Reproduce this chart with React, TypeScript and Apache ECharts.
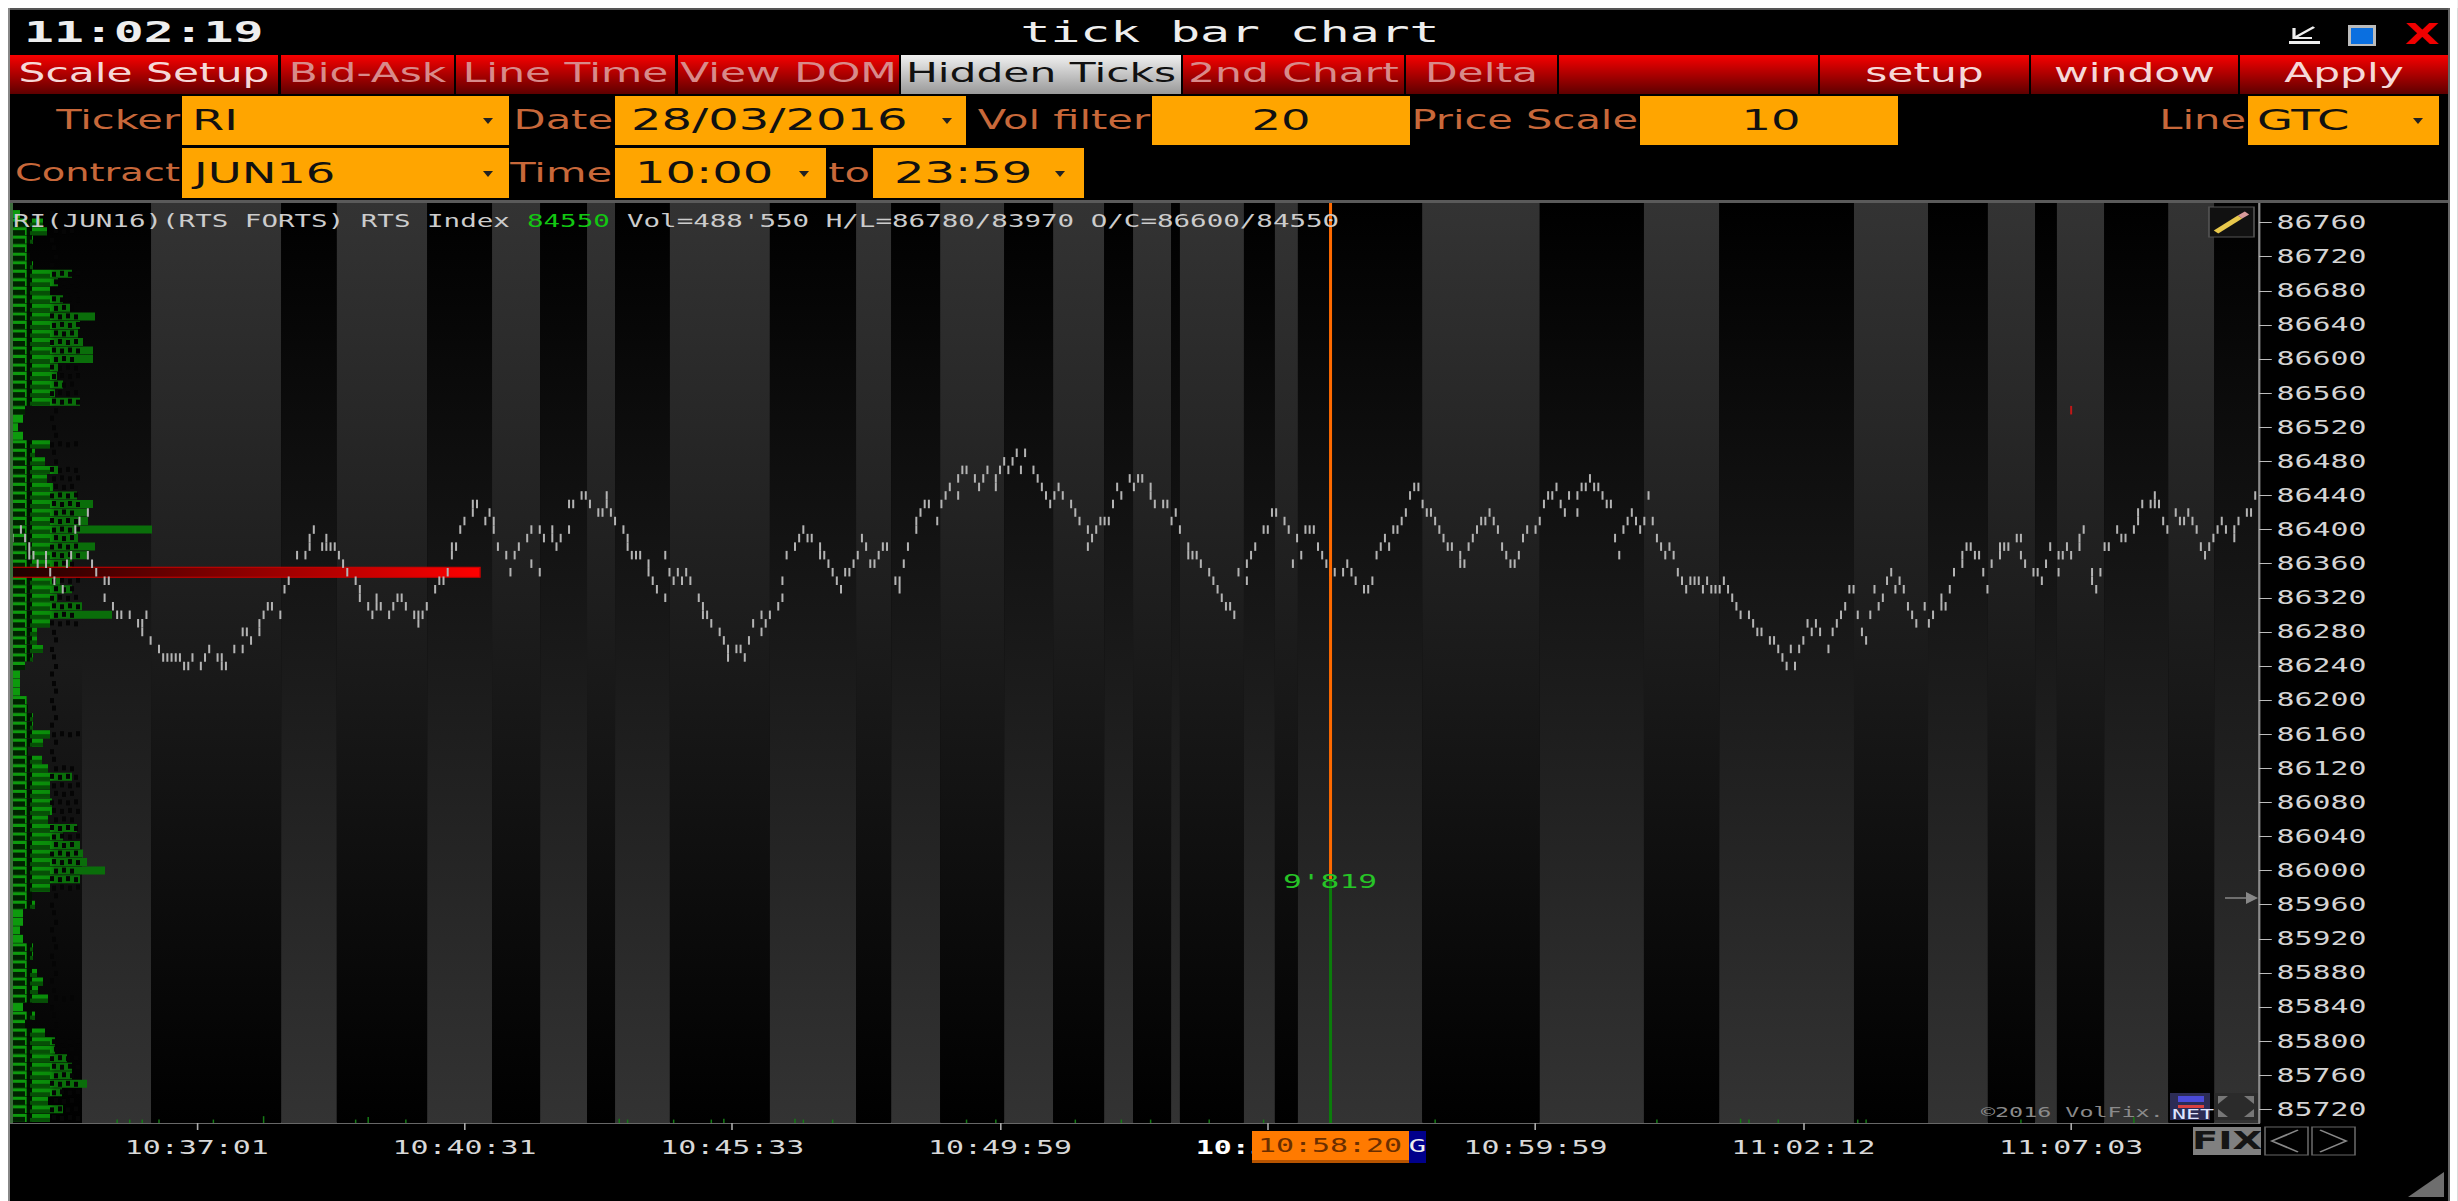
import React, { useEffect, useRef } from "react";
import * as echarts from "echarts";

const K = 1.6; // the source screenshot is stretched horizontally
const W = 2458, H = 1201;

const yTicks = [86760,86720,86680,86640,86600,86560,86520,86480,86440,86400,86360,86320,86280,86240,86200,86160,86120,86080,86040,86000,85960,85920,85880,85840,85800,85760,85720];
const timeTickBars = [47,111,175,239,303,367,431,495];
const timeTickLabels = ["10:37:01","10:40:31","10:45:33","10:49:59","10:55:12","10:59:59","11:02:12","11:07:03"];

const sessionEdges = [19.6,36.1,67.2,80.5,102.1,117.6,129.1,140.3,147,160.1,184,204.6,213,224.7,240,251.7,263.9,270.8,279.9,282,297.3,304.7,310.2,339.9,368,392.9,410.9,443.1,460.8,475.1,486.4,491.6,502.9,518.2,529.2,539.7];

const ticksA = [[3,86390],[5,86400],[6,86390],[7,86380],[7,86370],[8,86370],[9,86360],[11,86370],[11,86360],[12,86350],[13,86340],[15,86330],[16,86360],[17,86370],[18,86400],[19,86410],[21,86420],[21,86370],[22,86360],[23,86350],[25,86340],[26,86340],[25,86320],[27,86310],[28,86300],[29,86300],[31,86300],[35,86300],[33,86290],[34,86290],[34,86280],[36,86270],[38,86260],[39,86250],[40,86250],[41,86250],[42,86250],[43,86250],[44,86240],[45,86240],[46,86250],[48,86240],[49,86250],[50,86260],[52,86250],[53,86250],[53,86240],[54,86240],[56,86260],[58,86260],[58,86280],[59,86280],[60,86270],[62,86280],[62,86290],[63,86300],[64,86310],[65,86310],[67,86300],[68,86330],[69,86340],[71,86370],[73,86370],[74,86380],[74,86390],[75,86400],[78,86390],[77,86380],[78,86380],[79,86380],[80,86380],[81,86370],[82,86360],[83,86350],[85,86340],[86,86330],[86,86320],[88,86310],[89,86300],[90,86320],[90,86310],[91,86310],[93,86300],[94,86310],[95,86320],[96,86320],[97,86310],[99,86300],[100,86300],[100,86290],[101,86300],[102,86310],[104,86330],[105,86340],[106,86340],[107,86350],[108,86370],[108,86380],[109,86380],[110,86400],[111,86410],[113,86420],[113,86430],[114,86430],[117,86420],[116,86410],[118,86410],[118,86400],[119,86380],[121,86370],[123,86370],[122,86350],[124,86380],[126,86390],[127,86400],[127,86360],[129,86350],[129,86400],[130,86390],[132,86400],[132,86390],[133,86380],[134,86390],[136,86400],[136,86430],[137,86430],[139,86440],[140,86440],[141,86430],[143,86420],[144,86420],[145,86430],[145,86440],[146,86420],[147,86410],[149,86400],[150,86390],[150,86380],[151,86370],[152,86370],[153,86370],[155,86360],[155,86350],[156,86340],[157,86330],[159,86320],[159,86370],[160,86350],[161,86340],[162,86350],[163,86340],[164,86350],[165,86340],[167,86320],[168,86310],[168,86300],[169,86300],[170,86290],[172,86280],[173,86270],[174,86260],[174,86250],[176,86260],[177,86260],[178,86250],[179,86270],[180,86290],[182,86280],[182,86300],[183,86290],[184,86300],[186,86310],[187,86320],[187,86340],[188,86370],[190,86380],[191,86390],[192,86400],[193,86390],[194,86390],[196,86370]];
const ticksB = [[196,86380],[197,86370],[198,86360],[199,86350],[200,86340],[201,86330],[202,86350],[203,86350],[204,86360],[205,86370],[206,86390],[207,86380],[208,86360],[209,86360],[210,86370],[211,86380],[212,86380],[214,86340],[215,86330],[215,86340],[216,86360],[217,86380],[219,86400],[219,86410],[220,86420],[221,86430],[222,86430],[224,86410],[225,86430],[226,86440],[227,86450],[229,86440],[229,86460],[230,86470],[231,86470],[233,86460],[234,86450],[235,86460],[236,86470],[238,86460],[238,86450],[239,86470],[240,86480],[241,86470],[242,86480],[243,86490],[244,86470],[245,86490],[247,86470],[248,86460],[249,86450],[250,86440],[251,86430],[252,86440],[253,86450],[254,86440],[256,86430],[257,86420],[258,86410],[260,86400],[260,86380],[261,86390],[262,86400],[263,86410],[264,86410],[265,86410],[266,86430],[267,86450],[268,86440],[270,86460],[271,86450],[272,86460],[273,86460],[275,86450],[275,86440],[276,86430],[278,86430],[279,86430],[280,86410],[281,86420],[282,86400],[284,86380],[284,86370],[285,86370],[286,86370],[287,86360],[289,86350],[290,86340],[291,86330],[292,86320],[293,86310],[294,86310],[295,86300],[296,86350],[298,86340],[298,86360],[299,86370],[300,86380],[302,86400],[303,86400],[304,86420],[305,86420],[307,86410],[308,86400],[309,86360],[310,86390],[311,86370],[312,86400],[313,86400],[314,86400],[315,86380],[316,86370],[317,86360],[318,86350],[319,86350],[321,86350],[322,86360],[323,86350],[324,86340],[326,86330],[327,86330],[328,86340],[329,86370],[330,86380],[331,86390],[332,86380],[333,86400],[334,86400],[335,86410],[336,86420],[337,86440],[338,86450],[339,86450],[340,86430],[341,86420],[342,86420],[343,86410],[344,86400],[345,86390],[346,86380],[347,86380],[349,86370],[349,86360],[350,86360],[351,86380],[352,86390],[353,86400],[354,86410],[355,86410],[356,86420],[357,86410],[358,86400],[359,86380],[360,86370],[361,86360],[362,86360],[363,86370],[364,86390],[365,86400],[367,86400],[368,86410],[369,86430],[370,86440],[371,86440],[372,86450],[373,86430],[374,86420],[375,86440],[377,86420],[377,86440],[378,86450],[379,86450],[380,86460],[381,86450],[382,86450],[383,86440],[384,86430],[385,86430],[386,86390],[387,86370],[388,86400],[389,86410],[390,86420],[391,86410]];
const ticksC = [[392,86400],[393,86410],[394,86440],[395,86410],[396,86390],[397,86380],[398,86370],[399,86380],[400,86370],[401,86350],[402,86340],[403,86330],[404,86340],[405,86340],[406,86340],[407,86330],[408,86340],[409,86330],[410,86330],[411,86330],[412,86340],[413,86330],[414,86320],[415,86310],[416,86300],[418,86300],[419,86290],[420,86280],[421,86280],[423,86270],[424,86270],[425,86260],[426,86250],[427,86240],[428,86260],[429,86240],[430,86260],[431,86270],[432,86290],[433,86280],[434,86290],[435,86280],[437,86260],[438,86280],[439,86290],[440,86300],[441,86310],[442,86330],[443,86330],[444,86300],[445,86280],[446,86270],[447,86300],[448,86330],[449,86310],[450,86320],[451,86340],[452,86350],[453,86330],[454,86340],[455,86330],[456,86310],[457,86300],[458,86290],[460,86310],[461,86290],[462,86300],[464,86310],[464,86320],[465,86310],[466,86330],[467,86350],[469,86360],[469,86370],[470,86380],[471,86380],[472,86370],[473,86370],[474,86350],[475,86330],[476,86360],[478,86370],[478,86380],[479,86380],[480,86380],[482,86390],[483,86390],[483,86370],[484,86360],[486,86350],[487,86350],[488,86340],[489,86360],[490,86380],[492,86370],[492,86350],[493,86370],[494,86380],[495,86370],[497,86380],[497,86390],[498,86400],[500,86350],[500,86340],[501,86330],[502,86350],[503,86380],[504,86380],[506,86400],[507,86390],[508,86390],[510,86400],[511,86410],[511,86420],[512,86430],[514,86430],[515,86440],[515,86430],[516,86430],[517,86410],[518,86400],[520,86420],[521,86410],[522,86410],[523,86420],[524,86410],[525,86400],[526,86380],[527,86370],[528,86380],[529,86390],[530,86400],[531,86410],[532,86400],[534,86390],[534,86400],[535,86410],[537,86420],[538,86420],[539,86440]];
const redTicks = [[495,86540]];

const profileTopPrice = 86770;
const profileVolumes = [10,33,37,23,17,20,23,62,48,40,53,60,85,70,68,73,83,83,48,47,53,45,70,15,13,8,13,40,25,35,48,37,43,67,83,78,78,142,68,85,77,62,57,50,62,47,72,102,40,27,27,33,23,15,10,10,10,17,18,23,23,40,33,18,32,38,62,40,40,42,42,38,67,53,70,73,77,95,70,40,22,25,13,13,10,13,23,23,20,27,33,28,38,13,25,15,35,45,45,57,62,62,77,52,38,53,40];

const currentLevel = [2.9, 114.7, 86350];
const crossBar = 318;
const crossSplitPrice = 85990;
const smallVolumes = [[28,85708],[31,85708],[34,85708],[38,85708],[51,85708],[63,85712],[85,85708],[88,85711],[97,85708],[148,85709],[150,85708],[161,85708],[170,85708],[173,85709],[190,85709],[192,85708],[199,85708],[231,85708],[238,85708],[257,85708],[268,85708],[275,85708],[289,85708],[302,85708],[318,85708],[343,85708],[396,85708],[416,85709],[418,85708],[425,85708],[444,85708],[446,85708],[483,85708],[510,85711]];

const MONO = '"DejaVu Sans Mono"';
const SANS = '"DejaVu Sans"';
const X = (px: number) => px / K;

function rect(x0: number, y0: number, x1: number, y1: number, fill: any, extra: any = {}) {
  return { type: "rect", z: 100, silent: true, shape: { x: X(x0), y: y0, width: X(x1 - x0), height: y1 - y0 }, style: { fill, ...extra } };
}
function label(x: number, y: number, text: string, size: number, fill: string, align = "left", family = SANS, weight = "normal", sx = 1) {
  return { type: "text", z: 101, silent: true, x: X(x), y, scaleX: sx, style: { text, fill, font: `${weight} ${size}px ${family}`, textAlign: align, textVerticalAlign: "middle" } };
}
function poly(pts: number[][], fill: string) {
  return { type: "polygon", z: 101, silent: true, shape: { points: pts.map((p) => [X(p[0]), p[1]]) }, style: { fill } };
}
function pline(pts: number[][], stroke: string, lineWidth = 1.5) {
  return { type: "polyline", z: 101, silent: true, shape: { points: pts.map((p) => [X(p[0]), p[1]]) }, style: { stroke, lineWidth, fill: "none" } };
}
const arrow = (x: number, y: number) => poly([[x - 5, y - 3], [x + 5, y - 3], [x, y + 3]], "#222");

function redBtn() {
  return new echarts.graphic.LinearGradient(0, 0, 0, 1, [{ offset: 0, color: "#f80000" }, { offset: 1, color: "#5e0000" }]);
}

function buildGraphics() {
  const g: any[] = [];
  // white page margins and window borders
  g.push(rect(0, 0, W, 8, "#fff"), rect(0, 0, 8, H, "#fff"), rect(2450, 0, W, H, "#fff"));
  g.push(rect(8, 8, 2450, 10, "#555"), rect(8, 8, 10, H, "#888"), rect(2448, 8, 2450, H, "#666"));
  // title row
  g.push(label(24, 33, "11:02:19", 28, "#eee", "left", MONO, "bold", 1.11));
  g.push(label(1230, 33, "tick bar chart", 28, "#eee", "center", MONO, "normal", 1.11));
  g.push(pline([[2314, 27], [2294, 38]], "#eee", 2), pline([[2294, 28], [2294, 38], [2312, 38]], "#eee", 2), rect(2289, 41, 2320, 44, "#eee"));
  g.push(rect(2348, 25, 2376, 46, "#bbb"), rect(2351, 28, 2373, 44, "#0a6fe0"));
  g.push(label(2422, 34, "X", 28, "#f00000", "center", SANS, "bold"));
  // button row
  const btns: [number, number, string, string][] = [
    [10, 278, "Scale Setup", "#f6d8d8"], [281, 454, "Bid-Ask", "#d88a8a"], [456, 675, "Line Time", "#d88a8a"],
    [678, 899, "View DOM", "#d88a8a"], [1183, 1404, "2nd Chart", "#d88a8a"], [1406, 1557, "Delta", "#d88a8a"],
    [1559, 1818, "", "#fff"], [1820, 2029, "setup", "#f6d8d8"], [2031, 2238, "window", "#f6d8d8"], [2240, 2448, "Apply", "#f6d8d8"],
  ];
  btns.forEach(([a, b, t, c]) => {
    g.push(rect(a, 55, b, 94, redBtn()));
    if (t) g.push(label((a + b) / 2, 73, t, 26.5, c, "center"));
  });
  g.push(rect(901, 55, 1181, 94, new echarts.graphic.LinearGradient(0, 0, 0, 1, [{ offset: 0, color: "#f0f0f0" }, { offset: 1, color: "#999" }])));
  g.push(label(1041, 73, "Hidden Ticks", 26.5, "#111", "center"));
  // form fields
  const O = "#ffa500", L = "#c8683a";
  g.push(label(180, 120, "Ticker", 26, L, "right"), rect(182, 96, 509, 145, O), label(192, 120, "RI", 29, "#111"), arrow(488, 121));
  g.push(label(613, 120, "Date", 26, L, "right"), rect(615, 96, 966, 145, O), label(631, 120, "28/03/2016", 30, "#111"), arrow(947, 121));
  g.push(label(1150, 120, "Vol filter", 26, L, "right"), rect(1152, 96, 1410, 145, O), label(1281, 120, "20", 29, "#111", "center"));
  g.push(label(1638, 120, "Price Scale", 26, L, "right"), rect(1640, 96, 1898, 145, O), label(1771, 120, "10", 29, "#111", "center"));
  g.push(label(2246, 120, "Line", 26, L, "right"), rect(2248, 96, 2439, 145, O), label(2257, 120, "GTC", 29, "#111"), arrow(2418, 121));
  g.push(label(180, 173, "Contract", 24, L, "right"), rect(182, 148, 509, 198, O), label(194, 173, "JUN16", 29, "#111"), arrow(488, 174));
  g.push(label(612, 173, "Time", 26, L, "right"), rect(615, 148, 826, 198, O), label(635, 173, "10:00", 30, "#111"), arrow(804, 174));
  g.push(label(849, 173, "to", 26, L, "center"), rect(873, 148, 1084, 198, O), label(894, 173, "23:59", 30, "#111"), arrow(1060, 174));
  g.push(rect(10, 200, 2448, 203, "#5a5a5a"));
  // info line
  g.push(label(13, 221, "RI(JUN16)(RTS FORTS) RTS Index ", 17.2, "#ccc", "left", MONO));
  g.push(label(527, 221, "84550", 17.2, "#12c812", "left", MONO));
  g.push(label(627, 221, "Vol=488'550 H/L=86780/83970 O/C=86600/84550", 17.2, "#ccc", "left", MONO));
  // profile edge
  g.push(rect(10, 203, 13, 1123, "#3d6d3d"));
  // pen icon
  g.push(rect(2209, 207, 2254, 237, "#111", { stroke: "#555", lineWidth: 1 }));
  g.push(pline([[2216, 232], [2240, 217]], "#e8c84c", 4), pline([[2240, 217], [2247, 213]], "#d89a9a", 4));
  // crosshair volume & price arrow
  g.push(label(1330, 881, "9'819", 19.5, "#27c427", "center", MONO));
  g.push(pline([[2225, 898], [2250, 898]], "#888", 1.5), poly([[2246, 892], [2258, 898], [2246, 904]], "#888"));
  // watermark and logo
  g.push(label(1981, 1112, "©2016 VolFix.", 14.6, "#8a8a8a", "left", MONO));
  g.push(rect(2170, 1093, 2210, 1120, "#2c2c55"), rect(2178, 1096, 2204, 1102, "#4a4ad8"), rect(2178, 1105, 2204, 1108, "#d84040"));
  g.push(label(2172, 1114, "NET", 14.6, "#dfe4ff", "left", MONO));
  g.push(rect(2214, 1093, 2258, 1120, "#2b2b2b"));
  g.push(poly([[2218, 1096], [2228, 1096], [2218, 1104]], "#777"), poly([[2254, 1096], [2244, 1096], [2254, 1104]], "#777"), poly([[2218, 1117], [2228, 1117], [2218, 1109]], "#777"), poly([[2254, 1117], [2244, 1117], [2254, 1109]], "#777"));
  // crosshair time flag
  g.push(rect(1252, 1131, 1409, 1163, "#ff7a00"), rect(1252, 1160, 1409, 1163, "#b85400"));
  g.push(label(1330, 1146, "10:58:20", 18.7, "#6a2e00", "center", MONO));
  g.push(rect(1409, 1131, 1426, 1163, "#00008b"), label(1417.5, 1146, "G", 18, "#eee", "center", MONO));
  // FIX and arrows
  g.push(rect(2193, 1127, 2261, 1155, "#808080"), label(2227, 1141, "FIX", 24, "#151515", "center", SANS, "bold"));
  g.push(rect(2265, 1127, 2308, 1155, "#000", { stroke: "#666", lineWidth: 1 }), pline([[2298, 1130], [2272, 1141], [2298, 1152]], "#888"));
  g.push(rect(2312, 1127, 2355, 1155, "#000", { stroke: "#666", lineWidth: 1 }), pline([[2320, 1130], [2346, 1141], [2320, 1152]], "#888"));
  g.push(poly([[2444, 1172], [2444, 1197], [2408, 1197]], "#6e6e6e"));
  return g;
}

const bandRender = (params: any, api: any) => {
  const a = api.coord([api.value(0), 0])[0];
  const b = api.coord([api.value(1), 0])[0];
  const cs = params.coordSys;
  const k = api.value(2);
  const top = k === 0 ? "#000000" : k === 1 ? "#333333" : "#000000";
  const bottom = k === 0 ? "#333333" : "#000000";
  return {
    type: "rect", silent: true,
    shape: { x: a, y: cs.y, width: b - a, height: cs.height },
    style: { fill: new echarts.graphic.LinearGradient(0, 0, 0, 1, [{ offset: 0, color: top }, { offset: 0.5, color: "#1a1a1a" }, { offset: 1, color: bottom }]) },
  };
};

const profileRender = (params: any, api: any) => {
  const vol = api.value(0);
  const s = api.coord([0, api.value(1)]);
  const e = api.coord([vol, api.value(1)]);
  const px = (real: number) => s[0] + X(real - 10);
  const endReal = 10 + vol;
  const c = s[1];
  const i = params.dataIndex;
  const fill = new echarts.graphic.LinearGradient(s[0], 0, s[0] + X(90), 0, [
    { offset: 0, color: "#0d9a0d" }, { offset: 0.18, color: "#0d9a0d" }, { offset: 0.19, color: "#010" },
    { offset: 0.24, color: "#010" }, { offset: 0.25, color: "#0a920a" }, { offset: 0.45, color: "#0a8a0a" }, { offset: 0.5, color: "#0a6e0a" }, { offset: 1, color: "#0a6e0a" },
  ], true);
  const kids: any[] = [{ type: "rect", shape: { x: s[0], y: c - 4, width: e[0] - s[0], height: 8 }, style: { fill } }];
  // bright upper edge, dark lower shade of the left cells
  if (vol > 14) kids.push({ type: "rect", shape: { x: px(13), y: c - 1, width: X(Math.min(12, endReal - 13)), height: 5 }, style: { fill: "#020" } });
  if (vol > 22) kids.push({ type: "rect", shape: { x: px(30), y: c, width: X(Math.min(20, endReal - 30)), height: 4 }, style: { fill: "#064f06" } });
  // dark digits drawn over the cells and next to them
  const stop = vol > 35 ? 82 : 60;
  for (let j = 0; j < 4; j++) {
    const xj = 50 + j * 8 + (i % 3) * 2;
    if (xj + 4 < stop) kids.push({ type: "rect", shape: { x: px(xj), y: c - 3 + ((i + j) % 2), width: X(4), height: 5 }, style: { fill: "#050505" } });
  }
  return { type: "group", silent: true, children: kids };
};

const tickRender = (color: string) => (_p: any, api: any) => {
  const p = api.coord([api.value(0), api.value(1)]);
  const h = api.size([0, 10])[1];
  return { type: "rect", silent: true, shape: { x: p[0] - X(1), y: p[1] - h / 2, width: X(2), height: h }, style: { fill: color } };
};

const spikeRender = (_p: any, api: any) => {
  const p = api.coord([api.value(0), api.value(1)]);
  const b = api.coord([api.value(0), 85704]);
  return { type: "rect", silent: true, shape: { x: p[0] - X(0.75), y: p[1], width: X(1.5), height: b[1] - p[1] }, style: { fill: "#157a15" } };
};

const levelRender = (_p: any, api: any) => {
  const a = api.coord([api.value(0), api.value(2)]);
  const b = api.coord([api.value(1), api.value(2)]);
  return {
    type: "rect", silent: true,
    shape: { x: a[0], y: a[1] - 5, width: b[0] - a[0], height: 10 },
    style: {
      fill: new echarts.graphic.LinearGradient(0, 0, 1, 0, [{ offset: 0, color: "#1c0000" }, { offset: 1, color: "#ff0000" }]),
      stroke: "#d00000", lineWidth: 1,
    },
  };
};

export default function App() {
  const ref = useRef<HTMLDivElement>(null);
  useEffect(() => {
    document.body.style.margin = "0";
    document.body.style.overflow = "hidden";
    document.documentElement.style.overflow = "hidden";
    const chart = echarts.init(ref.current!, undefined, { renderer: "svg" });
    const bands: number[][] = [[2.39, sessionEdges[0], 2]];
    for (let i = 0; i < sessionEdges.length - 1; i++) bands.push([sessionEdges[i], sessionEdges[i + 1], i % 2]);
    const profile = profileVolumes.map((v, i) => [v, profileTopPrice - i * 10]);
    chart.setOption({
      animation: false,
      backgroundColor: "#000",
      tooltip: { show: false },
      legend: { show: false },
      grid: { left: X(10), top: 203, width: X(2249), height: 920, containLabel: false },
      xAxis: [
        {
          type: "value", min: 2.39, max: 539.9, position: "bottom", scale: true,
          splitLine: { show: false },
          axisLine: { show: true, onZero: false, lineStyle: { color: "#8a8a8a", width: 1.5 } },
          axisTick: { show: true, length: 7, customValues: timeTickBars, lineStyle: { color: "#aaa" } },
          axisLabel: {
            show: true, customValues: timeTickBars, margin: 15, color: "#d8d8d8", fontSize: 18.7, fontFamily: MONO,
            hideOverlap: false,
            formatter: (v: number) => {
              const i = timeTickBars.indexOf(v);
              return i === 4 ? `{b|${timeTickLabels[i]}}` : timeTickLabels[i];
            },
            rich: { b: { fontWeight: "bold", color: "#fff", fontSize: 18.7, fontFamily: MONO } },
          },
        },
        { type: "value", min: 0, max: 2249, show: false },
      ],
      yAxis: {
        type: "value", min: 85704, max: 86783, position: "right", scale: true,
        splitLine: { show: false },
        axisLine: { show: true, onZero: false, lineStyle: { color: "#8a8a8a", width: 1.5 } },
        axisTick: { show: true, length: 8, customValues: yTicks, lineStyle: { color: "#bbb" } },
        axisLabel: { show: true, customValues: yTicks, margin: 11, color: "#d4d4d4", fontSize: 18.7, fontFamily: MONO, formatter: (v: number) => String(v) },
      },
      series: [
        { type: "custom", name: "sessions", z: 1, data: bands, renderItem: bandRender, clip: true, silent: true },
        { type: "custom", name: "volume profile", z: 2, xAxisIndex: 1, data: profile, renderItem: profileRender, silent: true },
        { type: "custom", name: "small volumes", z: 3, data: smallVolumes, renderItem: spikeRender, silent: true },
        { type: "custom", name: "level", z: 3, data: [currentLevel], renderItem: levelRender, silent: true },
        { type: "custom", name: "ticks", z: 4, data: [...ticksA, ...ticksB, ...ticksC], renderItem: tickRender("#b4b4b4"), clip: true, silent: true },
        { type: "custom", name: "red ticks", z: 4, data: redTicks, renderItem: tickRender("#c01818"), silent: true },
        { type: "line", name: "cursor price", z: 5, showSymbol: false, silent: true, data: [[crossBar, 86783], [crossBar, crossSplitPrice]], lineStyle: { color: "#ff6a00", width: X(3) } },
        { type: "line", name: "cursor volume", z: 5, showSymbol: false, silent: true, data: [[crossBar, crossSplitPrice], [crossBar, 85704]], lineStyle: { color: "#0b7d0b", width: X(3) } },
      ],
      graphic: { elements: buildGraphics() },
    });
    return () => chart.dispose();
  }, []);
  return (
    <div style={{ width: W, height: H, overflow: "hidden", position: "relative" }}>
      <div ref={ref} style={{ width: W / K, height: H, transform: `scaleX(${K})`, transformOrigin: "0 0" }} />
    </div>
  );
}
